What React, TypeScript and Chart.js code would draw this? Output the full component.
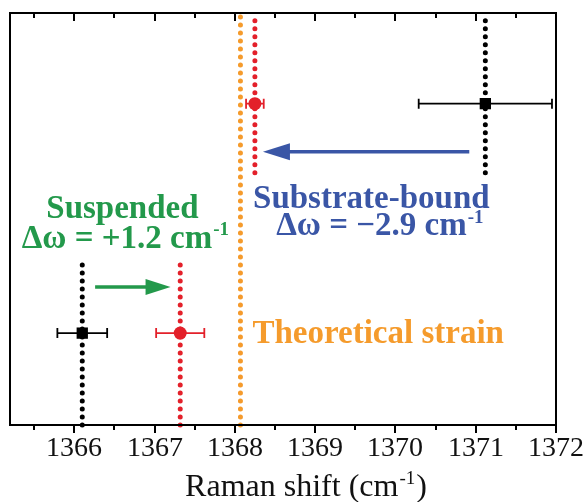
import { useEffect, useRef } from "react";
import { Chart, registerables } from "chart.js";

Chart.register(...registerables);

// ---------------- data ----------------
const X_MIN = 1365.2;
const X_MAX = 1372;
const X_TICKS = [1365.5, 1366, 1366.5, 1367, 1367.5, 1368, 1368.5, 1369, 1369.5, 1370, 1370.5, 1371, 1371.5, 1372];

// Raman peak positions (cm^-1): suspended pristine, suspended strained, substrate strained, substrate pristine
const PEAK_X = [1366.1, 1367.32, 1368.25, 1371.12];
const PEAK_Y = [0.223, 0.223, 0.78, 0.78];
const PEAK_ERR = [0.31, 0.3, 0.11, 0.83];
const PEAK_COLOR = ["#000000", "#e3202a", "#e3202a", "#000000"];
const PEAK_SHAPE = ["rect", "circle", "circle", "rect"];
const LINE_Y_FROM = [0, 0, 0.612, 0.612];
const LINE_Y_TO = [0.393, 0.393, 1, 1];

const THEORETICAL_X = 1368.07;

// arrows: [xFrom, xTo, y]
const ARROW_SUSPENDED = [1366.26, 1367.2, 0.335];
const ARROW_SUBSTRATE = [1370.92, 1368.35, 0.663];

const GREEN = "#23994b";
const BLUE = "#3a56a6";
const ORANGE = "#f59b2c";

// annotation text: [x, y, align, color, main, superscript]
const LABELS: [number, number, string, string, string, string][] = [
  [1366.6, 0.502, "center", GREEN, "Suspended", ""],
  [1366.63, 0.43, "center", GREEN, "\u0394\u03c9 = +1.2 cm", "-1"],
  [1369.7, 0.527, "center", BLUE, "Substrate-bound", ""],
  [1369.8, 0.461, "center", BLUE, "\u0394\u03c9 = \u22122.9 cm", "-1"],
  [1368.22, 0.199, "left", ORANGE, "Theoretical strain", ""],
];

const X_TITLE = "Raman shift (cm";
const X_TITLE_SUP = "-1";

const SERIF = "'Liberation Serif', 'Times New Roman', serif";

function drawRich(ctx: CanvasRenderingContext2D, x: number, y: number, align: string, main: string, sup: string, size: number, bold: boolean, color: string, after = "") {
  const w = bold ? "bold " : "";
  const mainFont = `${w}${size}px ${SERIF}`;
  const supFont = `${w}${Math.round(size * 0.58)}px ${SERIF}`;
  ctx.font = mainFont;
  const w1 = ctx.measureText(main).width;
  const w3 = after ? ctx.measureText(after).width : 0;
  ctx.font = supFont;
  const w2 = sup ? ctx.measureText(sup).width : 0;
  const total = w1 + w2 + w3;
  let sx = x;
  if (align === "center") sx = x - total / 2;
  else if (align === "right") sx = x - total;
  ctx.fillStyle = color;
  ctx.textAlign = "left";
  ctx.textBaseline = "alphabetic";
  ctx.font = mainFont;
  ctx.fillText(main, sx, y);
  if (sup) {
    ctx.font = supFont;
    ctx.fillText(sup, sx + w1 + 1, y - size * 0.38);
  }
  if (after) {
    ctx.font = mainFont;
    ctx.fillText(after, sx + w1 + w2 + 2, y);
  }
}

function drawArrow(ctx: CanvasRenderingContext2D, x0: number, x1: number, y: number, color: string, headLen: number, headHalf: number, lw: number) {
  const dir = Math.sign(x1 - x0);
  ctx.save();
  ctx.strokeStyle = color;
  ctx.fillStyle = color;
  ctx.lineWidth = lw;
  ctx.beginPath();
  ctx.moveTo(x0, y);
  ctx.lineTo(x1 - dir * headLen * 0.8, y);
  ctx.stroke();
  ctx.beginPath();
  ctx.moveTo(x1, y);
  ctx.lineTo(x1 - dir * headLen, y - headHalf);
  ctx.lineTo(x1 - dir * headLen, y + headHalf);
  ctx.closePath();
  ctx.fill();
  ctx.restore();
}

const decorPlugin = {
  id: "decor",
  afterDatasetsDraw(chart: any) {
    const ctx: CanvasRenderingContext2D = chart.ctx;
    const xs = chart.scales.x;
    const ys = chart.scales.y;
    // error bars
    ctx.save();
    for (let i = 0; i < PEAK_X.length; i++) {
      const y = ys.getPixelForValue(PEAK_Y[i]);
      const xl = xs.getPixelForValue(PEAK_X[i] - PEAK_ERR[i]);
      const xr = xs.getPixelForValue(PEAK_X[i] + PEAK_ERR[i]);
      ctx.strokeStyle = PEAK_COLOR[i];
      ctx.lineWidth = 1.8;
      ctx.beginPath();
      ctx.moveTo(xl, y);
      ctx.lineTo(xr, y);
      ctx.moveTo(xl, y - 5);
      ctx.lineTo(xl, y + 5);
      ctx.moveTo(xr, y - 5);
      ctx.lineTo(xr, y + 5);
      ctx.stroke();
    }
    ctx.restore();
  },
  afterDraw(chart: any) {
    const ctx: CanvasRenderingContext2D = chart.ctx;
    const xs = chart.scales.x;
    const ys = chart.scales.y;
    const a = chart.chartArea;
    ctx.save();
    // frame
    ctx.strokeStyle = "#000";
    ctx.lineWidth = 2;
    ctx.strokeRect(a.left, a.top, a.right - a.left, a.bottom - a.top);
    // ticks: bottom outward, top inward, with labels on integers
    ctx.fillStyle = "#111";
    ctx.font = `28px ${SERIF}`;
    ctx.textAlign = "center";
    ctx.textBaseline = "alphabetic";
    for (const v of X_TICKS) {
      const px = Math.round(xs.getPixelForValue(v));
      const major = Number.isInteger(v);
      const len = major ? 8 : 5;
      ctx.beginPath();
      ctx.moveTo(px, a.bottom);
      ctx.lineTo(px, a.bottom + len);
      ctx.moveTo(px, a.top);
      ctx.lineTo(px, a.top + len);
      ctx.stroke();
      if (major) ctx.fillText(String(v), px, a.bottom + 31);
    }
    // arrows
    drawArrow(ctx, xs.getPixelForValue(ARROW_SUSPENDED[0]), xs.getPixelForValue(ARROW_SUSPENDED[1]), ys.getPixelForValue(ARROW_SUSPENDED[2]), GREEN, 25, 8, 3.5);
    drawArrow(ctx, xs.getPixelForValue(ARROW_SUBSTRATE[0]), xs.getPixelForValue(ARROW_SUBSTRATE[1]), ys.getPixelForValue(ARROW_SUBSTRATE[2]), BLUE, 27, 8.5, 3.5);
    // annotation labels
    for (const [x, y, align, color, main, sup] of LABELS) {
      drawRich(ctx, xs.getPixelForValue(x), ys.getPixelForValue(y), align, main, sup, 33, true, color);
    }
    // axis title
    drawRich(ctx, (a.left + a.right) / 2 + 22, 496, "center", X_TITLE, X_TITLE_SUP, 32, false, "#111", ")");
    ctx.restore();
  },
};

export default function App() {
  const ref = useRef<HTMLCanvasElement | null>(null);
  useEffect(() => {
    document.body.style.margin = "0";
    document.body.style.overflow = "hidden";
    const canvas = ref.current!;
    const datasets: any[] = [];
    // markers
    for (let i = 0; i < PEAK_X.length; i++) {
      datasets.push({
        type: "scatter",
        data: [{ x: PEAK_X[i], y: PEAK_Y[i] }],
        pointStyle: PEAK_SHAPE[i],
        pointRadius: PEAK_SHAPE[i] === "rect" ? 8 : 6.5,
        backgroundColor: PEAK_COLOR[i],
        borderColor: PEAK_COLOR[i],
        borderWidth: 0,
        order: 0,
      });
    }
    // dotted guide lines
    const dotted = (x: number, y0: number, y1: number, color: string, w: number) => ({
      type: "line",
      data: [{ x, y: y0 }, { x, y: y1 }],
      borderColor: color,
      borderWidth: w,
      borderDash: [0, 8],
      borderCapStyle: "round",
      pointRadius: 0,
      fill: false,
      clip: false,
      order: 2,
    });
    datasets.push(dotted(THEORETICAL_X, 0, 1, ORANGE, 5));
    for (let i = 0; i < PEAK_X.length; i++) {
      datasets.push(dotted(PEAK_X[i], LINE_Y_FROM[i], LINE_Y_TO[i], PEAK_COLOR[i], 5));
    }

    const chart = new Chart(canvas, {
      type: "scatter",
      data: { datasets },
      options: {
        animation: false,
        responsive: false,
        events: [],
        layout: { padding: { top: 13, left: 10, right: 29, bottom: 0 } },
        plugins: { legend: { display: false }, tooltip: { enabled: false } },
        scales: {
          x: {
            type: "linear",
            min: X_MIN,
            max: X_MAX,
            afterBuildTicks: (scale: any) => {
              scale.ticks = X_TICKS.map((v) => ({ value: v }));
            },
            afterFit: (scale: any) => {
              scale.height = 77;
            },
            grid: { display: false, drawTicks: false },
            border: { display: false },
            ticks: { display: false },
          },
          y: { type: "linear", min: 0, max: 1, display: false },
        },
      },
      plugins: [decorPlugin],
    } as any);
    return () => chart.destroy();
  }, []);
  return (
    <div style={{ width: 585, height: 502, background: "#fff" }}>
      <canvas ref={ref} width={585} height={502} />
    </div>
  );
}
